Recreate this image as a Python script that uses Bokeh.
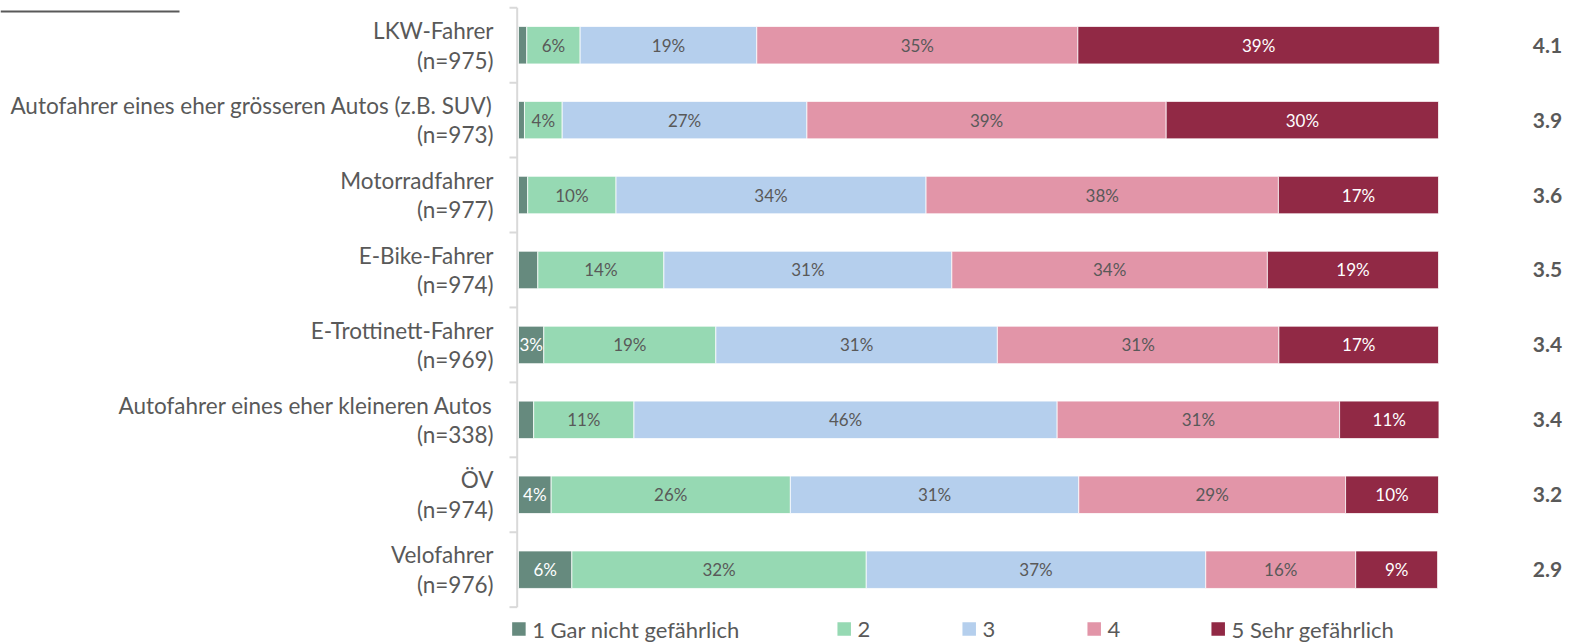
from bokeh.plotting import figure
from bokeh.models import Range1d, ColumnDataSource
from bokeh.core.properties import value
from bokeh.embed import file_html
from bokeh.resources import INLINE

# ---------------- data ----------------
categories = ["LKW-Fahrer",
              "Autofahrer eines eher grösseren Autos (z.B. SUV)",
              "Motorradfahrer",
              "E-Bike-Fahrer",
              "E-Trottinett-Fahrer",
              "Autofahrer eines eher kleineren Autos",
              "ÖV",
              "Velofahrer"]
n_counts = [975, 973, 977, 974, 969, 338, 974, 976]
series_names = ["1 Gar nicht gefährlich", "2", "3", "4", "5 Sehr gefährlich"]
s1 = [0.9, 0.65, 1.0, 2.1, 2.75, 1.65, 3.55, 5.8]
s2 = [5.8, 4.1, 9.6, 13.7, 18.7, 10.9, 26.0, 32.0]
s3 = [19.2, 26.6, 33.7, 31.3, 30.6, 46.0, 31.35, 36.9]
s4 = [34.9, 39.05, 38.3, 34.3, 30.6, 30.7, 29.0, 16.3]
s5 = [39.3, 29.6, 17.4, 18.6, 17.35, 10.8, 10.1, 8.9]
means = [4.1, 3.9, 3.6, 3.5, 3.4, 3.4, 3.2, 2.9]

colors = ["#668a7e", "#96d9b3", "#b5cfed", "#e295a8", "#912945"]
label_colors = ["white", "#595959", "#595959", "#595959", "white"]
series = [s1, s2, s3, s4, s5]

# ---------------- layout helpers ----------------
W, H = 1572, 642
OFF = 0                   # canvas origin in picture pixels
PX_PER_PCT = 9.2          # 920 px for 100 %
X0_PAGE = 518             # picture x of 0 %
Y0_PAGE = 44.7            # picture y of first category centre
BAND = 74.93              # px per category


def dx(page_x):
    return (page_x - X0_PAGE) / PX_PER_PCT


def dy(page_y):
    return (page_y - Y0_PAGE) / BAND


FONT = "Lato"
GRAY = "#595959"

p = figure(width=W, height=H, output_backend="svg", toolbar_location=None,
           x_range=Range1d(dx(OFF), dx(OFF + W)),
           y_range=Range1d(dy(OFF + H), dy(OFF)),
           x_axis_location=None, y_axis_location=None,
           min_border=0, outline_line_color=None)
p.grid.visible = False
p.background_fill_color = "white"
p.border_fill_color = "white"

ys = list(range(len(categories)))

# top-left rule
p.segment(x0=[dx(0)], y0=[dy(11)], x1=[dx(179)], y1=[dy(11)],
          line_color=GRAY, line_width=2)

# axis line and boundary ticks
ax_x = dx(516.7)
p.segment(x0=[ax_x], y0=[-0.5], x1=[ax_x], y1=[len(categories) - 0.5],
          line_color="#d9d9d9", line_width=2)
bounds = [i - 0.5 for i in range(len(categories) + 1)]
p.segment(x0=[dx(509)] * len(bounds), y0=bounds, x1=[ax_x] * len(bounds), y1=bounds,
          line_color="#d9d9d9", line_width=2)

# stacked bars
left = [0.0] * len(categories)
for k, vals in enumerate(series):
    right = [l + v for l, v in zip(left, vals)]
    src = ColumnDataSource(dict(y=ys, left=left, right=right))
    p.hbar(y="y", left="left", right="right", height=0.5, source=src,
           fill_color=colors[k], line_color="white", line_width=0.75)
    lx, ly, lt = [], [], []
    for i, v in enumerate(vals):
        if v >= 2.5:
            lx.append((left[i] + right[i]) / 2)
            ly.append(i)
            lt.append(f"{round(v)}%")
    p.text(x=lx, y=ly, text=lt, text_align="center", text_baseline="middle",
           text_font=value(FONT), text_font_size="17px", text_color=label_colors[k])
    left = right

# category labels
cat_text = [f"{c}\n(n={n})" for c, n in zip(categories, n_counts)]
p.text(x=[dx(493)] * len(categories), y=ys, text=cat_text,
       text_align="right", text_baseline="middle", text_line_height=1.1,
       text_font=value(FONT), text_font_size="22.5px", text_color=GRAY)

# mean values
p.text(x=[dx(1547)] * len(means), y=ys, text=[f"{m:.1f}" for m in means],
       text_align="center", text_baseline="middle",
       text_font=value(FONT), text_font_size="21px", text_font_style="bold",
       text_color=GRAY)

# legend
leg_left = [511.7, 837, 962, 1087, 1211]
leg_y = dy(628.5)
p.scatter(x=[dx(v + 6.7) for v in leg_left], y=[leg_y] * len(leg_left),
          marker="square", size=13.5, fill_color=colors, line_color=None)
p.text(x=[dx(v + 20) for v in leg_left], y=[leg_y] * len(leg_left),
       text=series_names, text_align="left", text_baseline="middle",
       text_font=value(FONT), text_font_size="22px", text_color=GRAY)

open("out.html", "w").write(file_html(p, INLINE))
